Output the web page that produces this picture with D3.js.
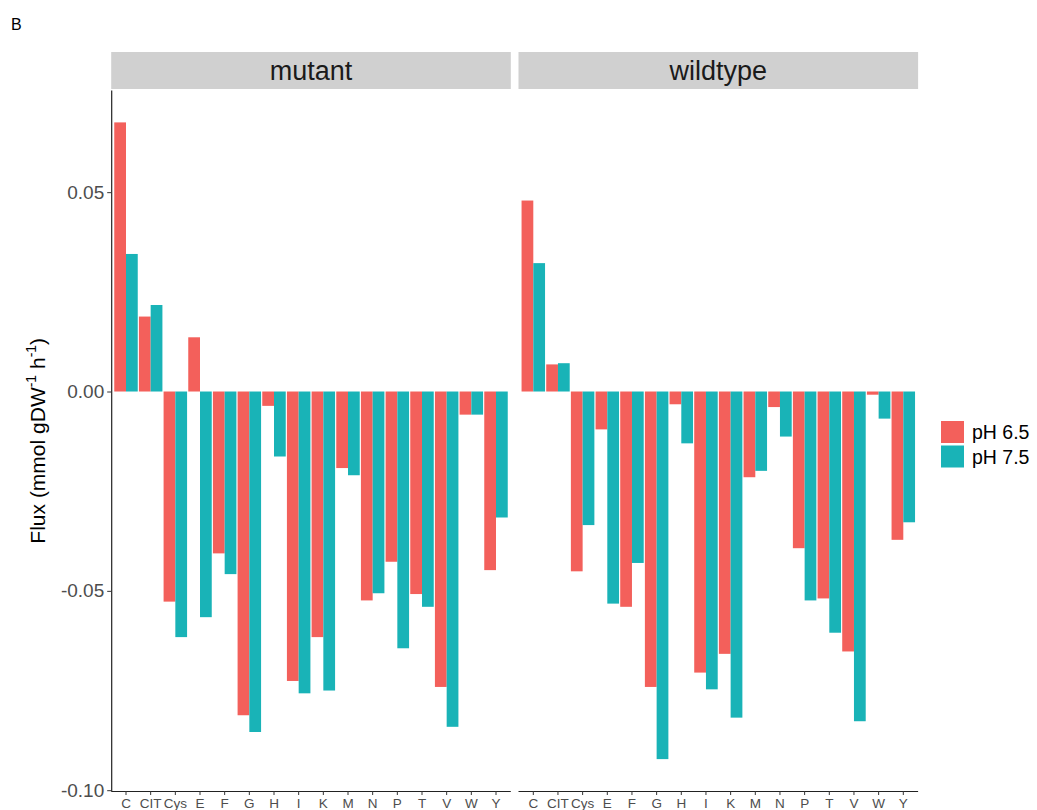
<!DOCTYPE html>
<html>
<head>
<meta charset="utf-8">
<script src="https://cdn.jsdelivr.net/npm/d3@7"></script>
<style>
  html, body { margin: 0; padding: 0; background: #fff; }
  svg { display: block; font-family: "Liberation Sans", Arial, sans-serif; }
</style>
</head>
<body>
<svg id="chart" width="1037" height="810"></svg>
<script>
// Amino-acid exchange fluxes per strain and pH
const categories = ["C", "CIT", "Cys", "E", "F", "G", "H", "I", "K", "M", "N", "P", "T", "V", "W", "Y"];
const panels = ["mutant", "wildtype"];
const phLevels = ["pH 6.5", "pH 7.5"];

const mutantPH65 = [0.0675, 0.0188, -0.0527, 0.0136, -0.0406, -0.0812, -0.0036, -0.0726, -0.0616, -0.0192, -0.0524, -0.0427, -0.0508, -0.0741, -0.0058, -0.0448];
const mutantPH75 = [0.0345, 0.0217, -0.0616, -0.0566, -0.0458, -0.0854, -0.0163, -0.0757, -0.0750, -0.0210, -0.0506, -0.0644, -0.0540, -0.0841, -0.0058, -0.0316];
const wildtypePH65 = [0.0479, 0.0068, -0.0451, -0.0095, -0.0540, -0.0741, -0.0032, -0.0705, -0.0658, -0.0215, -0.0039, -0.0393, -0.0519, -0.0652, -0.0008, -0.0372];
const wildtypePH75 = [0.0322, 0.0071, -0.0335, -0.0532, -0.0430, -0.0922, -0.0130, -0.0747, -0.0818, -0.0199, -0.0113, -0.0524, -0.0605, -0.0827, -0.0068, -0.0328];

const yTicks = [0.05, 0.00, -0.05, -0.10];
const yTickLabels = ["0.05", "0.00", "-0.05", "-0.10"];

const seriesByPanel = {
  mutant: [mutantPH65, mutantPH75],
  wildtype: [wildtypePH65, wildtypePH75]
};

const colors = d3.scaleOrdinal().domain(phLevels).range(["#F3605B", "#19B3B7"]);

const svg = d3.select("#chart");

// Layout
const panelTop = 90.5, panelBottom = 791;
const panelLefts = [111.2, 518.5];
const panelWidth = 399.6;
const stripTop = 52, stripBottom = 89;

const y = d3.scaleLinear().domain([-0.1002, 0.0755]).range([panelBottom, panelTop]);

// Figure tag
svg.append("text").attr("x", 11).attr("y", 30)
  .attr("font-size", 16).attr("fill", "#000").text("B");

panels.forEach((panel, pi) => {
  const left = panelLefts[pi];
  // discrete axis: 0.6 units of padding on each side of the first/last category centre
  const x = d3.scaleBand().domain(categories)
    .range([left, left + panelWidth])
    .paddingInner(0).paddingOuter(0.1);
  const inner = d3.scaleBand().domain(phLevels)
    .range([0, x.bandwidth()]).paddingOuter(0.05).paddingInner(0);

  const g = svg.append("g");

  // Strip
  g.append("rect")
    .attr("x", left).attr("y", stripTop)
    .attr("width", panelWidth).attr("height", stripBottom - stripTop)
    .attr("fill", "#D0D0D0");
  g.append("text")
    .attr("x", left + panelWidth / 2).attr("y", (stripTop + stripBottom) / 2 + 9)
    .attr("text-anchor", "middle").attr("font-size", 27).attr("fill", "#1a1a1a")
    .text(panel);

  // Bars
  const rows = [];
  seriesByPanel[panel].forEach((vals, si) => {
    vals.forEach((v, ci) => rows.push({ cat: categories[ci], ph: phLevels[si], value: v }));
  });
  g.selectAll("rect.bar").data(rows).join("rect")
    .attr("class", "bar")
    .attr("x", d => x(d.cat) + inner(d.ph))
    .attr("width", inner.bandwidth())
    .attr("y", d => Math.min(y(d.value), y(0)))
    .attr("height", d => Math.abs(y(d.value) - y(0)))
    .attr("fill", d => colors(d.ph));

  // X axis
  const xAxis = d3.axisBottom(x).tickSize(4).tickPadding(3);
  const xg = svg.append("g").attr("transform", `translate(0,${panelBottom})`).call(xAxis);
  xg.select(".domain").attr("stroke", "#222").attr("stroke-width", 1.2)
    .attr("d", `M${left},0.5H${left + panelWidth}`);
  xg.selectAll(".tick line").attr("stroke", "#333");
  xg.selectAll(".tick text").attr("font-size", 13.5).attr("fill", "#4d4d4d")
    .attr("font-family", "Liberation Sans, Arial, sans-serif");
});

// Y axis (left panel only)
const yAxis = d3.axisLeft(y).tickValues(yTicks).tickSize(4).tickPadding(3)
  .tickFormat((d, i) => yTickLabels[i]);
const yg = svg.append("g").attr("transform", `translate(${panelLefts[0]},0)`).call(yAxis);
yg.select(".domain").attr("stroke", "#222").attr("stroke-width", 1.2)
  .attr("d", `M0.5,${panelTop}V${panelBottom}`);
yg.selectAll(".tick line").attr("stroke", "#333");
yg.selectAll(".tick text").attr("font-size", 19).attr("fill", "#4d4d4d")
  .attr("font-family", "Liberation Sans, Arial, sans-serif");

// Y title with superscripts
const yTitle = svg.append("text")
  .attr("transform", `translate(45,${(panelTop + panelBottom) / 2}) rotate(-90)`)
  .attr("text-anchor", "middle").attr("font-size", 21).attr("fill", "#000");
yTitle.append("tspan").text("Flux (mmol gDW");
yTitle.append("tspan").attr("dy", -9).attr("font-size", 14).text("-1");
yTitle.append("tspan").attr("dy", 9).text(" h");
yTitle.append("tspan").attr("dy", -9).attr("font-size", 14).text("-1");
yTitle.append("tspan").attr("dy", 9).text(")");

// Legend
const legend = svg.append("g").attr("transform", "translate(941,421)");
phLevels.forEach((lvl, i) => {
  legend.append("rect").attr("x", 0).attr("y", i * 24.5)
    .attr("width", 23).attr("height", 22).attr("fill", colors(lvl));
  legend.append("text").attr("x", 31).attr("y", i * 24.5 + 18)
    .attr("font-size", 19.5).attr("fill", "#000").text(lvl);
});
</script>
</body>
</html>
